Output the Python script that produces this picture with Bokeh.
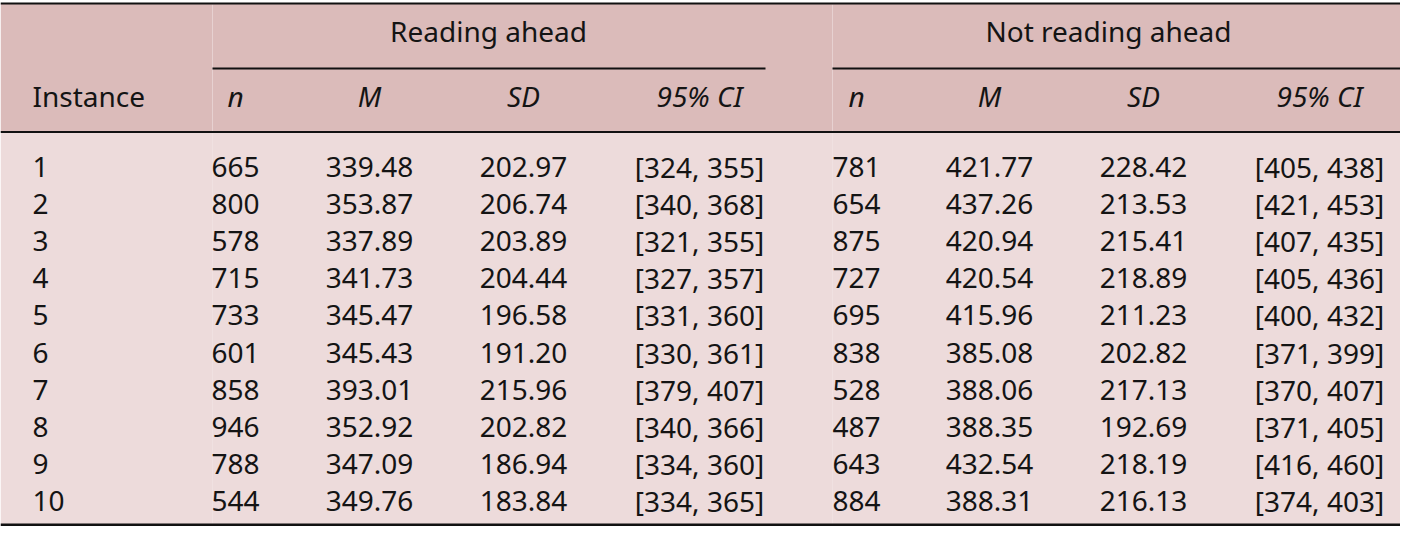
from bokeh.plotting import figure
from bokeh.models import Range1d, ColumnDataSource
from bokeh.core.properties import value
from bokeh.embed import file_html
from bokeh.resources import INLINE

# ---- data ----
instances = [1, 2, 3, 4, 5, 6, 7, 8, 9, 10]
group_labels = ["Reading ahead", "Not reading ahead"]
stat_labels = ["n", "M", "SD", "95% CI"]

ra_n = [665, 800, 578, 715, 733, 601, 858, 946, 788, 544]
ra_m = [339.48, 353.87, 337.89, 341.73, 345.47, 345.43, 393.01, 352.92, 347.09, 349.76]
ra_sd = [202.97, 206.74, 203.89, 204.44, 196.58, 191.20, 215.96, 202.82, 186.94, 183.84]
ra_ci_lo = [324, 340, 321, 327, 331, 330, 379, 340, 334, 334]
ra_ci_hi = [355, 368, 355, 357, 360, 361, 407, 366, 360, 365]

nra_n = [781, 654, 875, 727, 695, 838, 528, 487, 643, 884]
nra_m = [421.77, 437.26, 420.94, 420.54, 415.96, 385.08, 388.06, 388.35, 432.54, 388.31]
nra_sd = [228.42, 213.53, 215.41, 218.89, 211.23, 202.82, 217.13, 192.69, 218.19, 216.13]
nra_ci_lo = [405, 421, 407, 405, 400, 371, 370, 371, 416, 374]
nra_ci_hi = [438, 453, 435, 436, 432, 399, 407, 405, 460, 403]

# ---- layout (reference pixel coordinates) ----
FONT = value("Noto Sans")
FS = "28px"
TXT = "#141414"
HEAD_BG = "#dbbbba"
BODY_BG = "#eddbdb"

W, H = 1400, 526
DY = -12  # baseline correction for the svg text renderer
col_centers = [235, 369, 523, 699, 856, 989, 1143, 1319]
group_centers = [488, 1108]
group_spans = [(212, 765), (832, W)]
inst_x = 32
row0 = 178 + DY
row_step = 37.2

p = figure(width=W, height=H, x_range=Range1d(0, W), y_range=Range1d(H, 0),
           output_backend="svg", toolbar_location=None, min_border=0)
p.axis.visible = False
p.grid.visible = False
p.outline_line_color = None
p.background_fill_color = "white"
p.border_fill_color = "white"

# backgrounds
p.quad(left=[0, 0], right=[W, W], top=[3, 131], bottom=[131, H],
       fill_color=[HEAD_BG, BODY_BG], line_color=None)

# faint cell borders
p.segment(x0=[212, 832], x1=[212, 832], y0=[4, 4], y1=[H - 3, H - 3],
          line_color="#f3e7e7", line_width=1, line_alpha=0.5)

# rules
p.segment(x0=[0], x1=[W], y0=[3], y1=[3], line_color="#111111", line_width=2)
p.segment(x0=[0], x1=[W], y0=[131.5], y1=[131.5], line_color="#111111", line_width=2)
p.segment(x0=[s[0] for s in group_spans], x1=[s[1] for s in group_spans],
          y0=[68, 68], y1=[68, 68], line_color="#111111", line_width=2)
p.segment(x0=[0], x1=[W], y0=[H - 1.5], y1=[H - 1.5], line_color="#111111", line_width=3)

# header texts
p.text(x=group_centers, y=[42 + DY] * 2, text=group_labels, text_font=FONT, text_font_size=FS,
       text_color=TXT, text_align="center", text_baseline="alphabetic")
p.text(x=[inst_x], y=[107 + DY], text=["Instance"], text_font=FONT, text_font_size=FS,
       text_color=TXT, text_align="left", text_baseline="alphabetic")
p.text(x=col_centers, y=[107 + DY] * 8, text=stat_labels + stat_labels, text_font=FONT,
       text_font_size=FS, text_font_style="italic", text_color=TXT,
       text_align="center", text_baseline="alphabetic")

# body
ys = [row0 + i * row_step for i in range(len(instances))]
p.text(x=[inst_x] * len(instances), y=ys, text=[str(v) for v in instances], text_font=FONT,
       text_font_size=FS, text_color=TXT, text_align="left", text_baseline="alphabetic")

columns = [
    [str(v) for v in ra_n],
    [f"{v:.2f}" for v in ra_m],
    [f"{v:.2f}" for v in ra_sd],
    [f"[{a}, {b}]" for a, b in zip(ra_ci_lo, ra_ci_hi)],
    [str(v) for v in nra_n],
    [f"{v:.2f}" for v in nra_m],
    [f"{v:.2f}" for v in nra_sd],
    [f"[{a}, {b}]" for a, b in zip(nra_ci_lo, nra_ci_hi)],
]
for cx, col in zip(col_centers, columns):
    src = ColumnDataSource(dict(x=[cx] * len(col), y=ys, t=col))
    p.text(x="x", y="y", text="t", source=src, text_font=FONT, text_font_size=FS,
           text_color=TXT, text_align="center", text_baseline="alphabetic")

open("out.html", "w").write(file_html(p, INLINE))
